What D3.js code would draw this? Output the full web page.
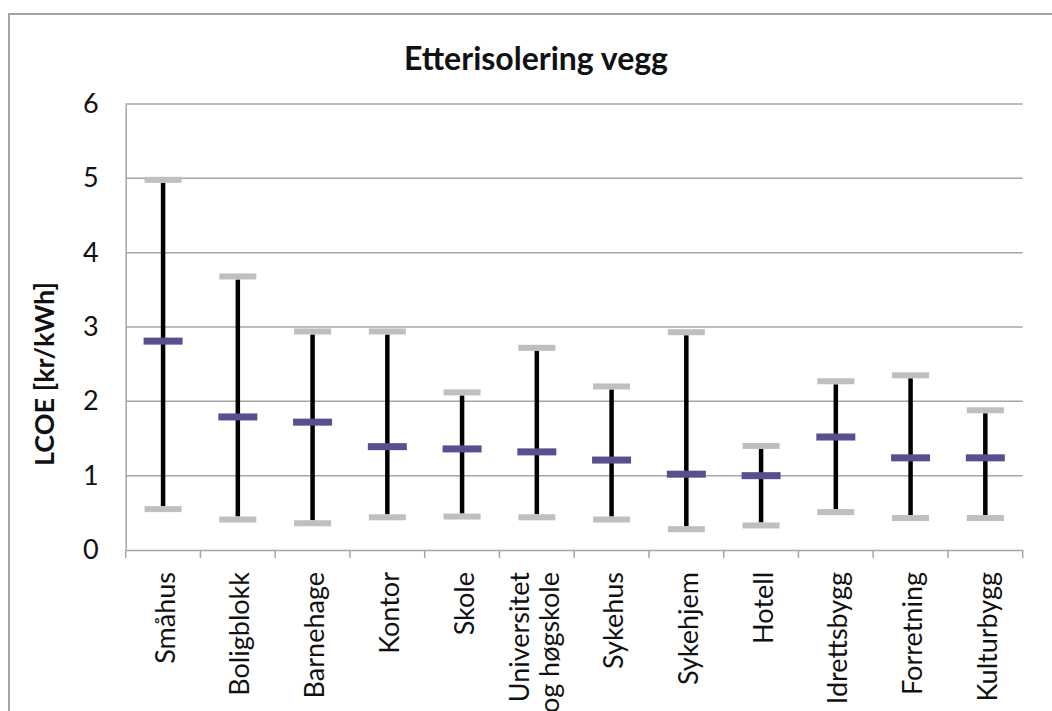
<!DOCTYPE html>
<html><head><meta charset="utf-8">
<script src="https://cdn.jsdelivr.net/npm/d3@7"></script>
<style>html,body{margin:0;padding:0;background:#fff;overflow:hidden}</style>
</head><body>
<svg id="chart" width="1052" height="711"></svg>
<script>
const categories = ["Småhus","Boligblokk","Barnehage","Kontor","Skole","Universitet\nog høgskole","Sykehus","Sykehjem","Hotell","Idrettsbygg","Forretning","Kulturbygg"];
const maxValues = [4.98,3.68,2.94,2.94,2.12,2.72,2.20,2.93,1.40,2.27,2.35,1.88];
const midValues = [2.81,1.79,1.72,1.39,1.36,1.32,1.21,1.02,1.00,1.52,1.24,1.24];
const minValues = [0.55,0.41,0.36,0.44,0.45,0.44,0.41,0.28,0.33,0.51,0.43,0.43];
const yTicks = [0,1,2,3,4,5,6];
const title = "Etterisolering vegg";
const yTitle = "LCOE [kr/kWh]";

const svg = d3.select("#chart");
const font = "Lato, 'Open Sans', sans-serif";
const m = {left:125.7, right:1022.7, top:104, bottom:550};

svg.append("rect").attr("x",9).attr("y",14).attr("width",1200).attr("height",900)
  .attr("fill","none").attr("stroke","#a3a3a3").attr("stroke-width",2);

const x = d3.scaleBand().domain(categories).range([m.left,m.right]);
const y = d3.scaleLinear().domain([0,6]).range([m.bottom,m.top]);

// gridlines
svg.append("g").selectAll("line").data(yTicks.filter(d=>d>0)).join("line")
  .attr("x1",m.left).attr("x2",m.right).attr("y1",d=>y(d)).attr("y2",d=>y(d))
  .attr("stroke","#a6a6a6").attr("stroke-width",1.5);

// y axis
const yAxis = svg.append("g").attr("transform",`translate(${m.left},0)`)
  .call(d3.axisLeft(y).tickValues(yTicks).tickSize(0).tickPadding(27).tickFormat(d3.format("d")));
yAxis.select(".domain").attr("stroke","#a6a6a6").attr("stroke-width",1.5);
yAxis.selectAll("text").attr("font-family",font).attr("font-size",27).attr("fill","#111");

// x axis
const xAxis = svg.append("g").attr("transform",`translate(0,${m.bottom})`)
  .call(d3.axisBottom(x).tickSize(0).tickFormat(""));
xAxis.select(".domain").attr("stroke","#a6a6a6").attr("stroke-width",1.5);
const bounds = categories.map(c=>x(c)).concat([m.right]);
svg.append("g").selectAll("line").data(bounds).join("line")
  .attr("x1",d=>d).attr("x2",d=>d).attr("y1",m.bottom).attr("y2",m.bottom+8)
  .attr("stroke","#a6a6a6").attr("stroke-width",1.5);

// category labels
const lab = svg.append("g").selectAll("text").data(categories).join("text")
  .attr("transform",d=>{
    const n = d.split("\n").length;
    const cx = x(d)+x.bandwidth()/2;
    return `translate(${cx + 11.5 - (n-1)*19},572) rotate(-90)`;
  })
  .attr("text-anchor","end").attr("font-family",font).attr("font-size",27).attr("fill","#111");
lab.each(function(d){
  const t = d3.select(this);
  d.split("\n").forEach((s,i)=>t.append("tspan").attr("x",0).attr("dy",i===0?0:30).text(s));
});

const cx = c=>x(c)+x.bandwidth()/2;
// vertical lines
svg.append("g").selectAll("line").data(categories).join("line")
  .attr("x1",cx).attr("x2",cx)
  .attr("y1",(d,i)=>y(maxValues[i])+3).attr("y2",(d,i)=>y(minValues[i])-3)
  .attr("stroke","#000").attr("stroke-width",4.5);
// caps
const capW = 37, capH = 6;
svg.append("g").selectAll("rect").data(categories).join("rect")
  .attr("x",d=>cx(d)-capW/2).attr("y",(d,i)=>y(maxValues[i])-capH/2)
  .attr("width",capW).attr("height",capH).attr("fill","#bfbfbf");
svg.append("g").selectAll("rect").data(categories).join("rect")
  .attr("x",d=>cx(d)-capW/2).attr("y",(d,i)=>y(minValues[i])-capH/2)
  .attr("width",capW).attr("height",capH).attr("fill","#bfbfbf");
// mid markers
const midW = 39, midH = 7;
svg.append("g").selectAll("rect").data(categories).join("rect")
  .attr("x",d=>cx(d)-midW/2).attr("y",(d,i)=>y(midValues[i])-midH/2)
  .attr("width",midW).attr("height",midH).attr("fill","#56508e");

// title
svg.append("text").attr("x",536).attr("y",70).attr("text-anchor","middle")
  .attr("font-family",font).attr("font-weight","bold").attr("font-size",32).attr("fill","#111").text(title);
// y title
svg.append("text").attr("transform","translate(54,374) rotate(-90)").attr("text-anchor","middle")
  .attr("font-family",font).attr("font-weight","bold").attr("font-size",27).attr("fill","#111").text(yTitle);
</script>
</body></html>
